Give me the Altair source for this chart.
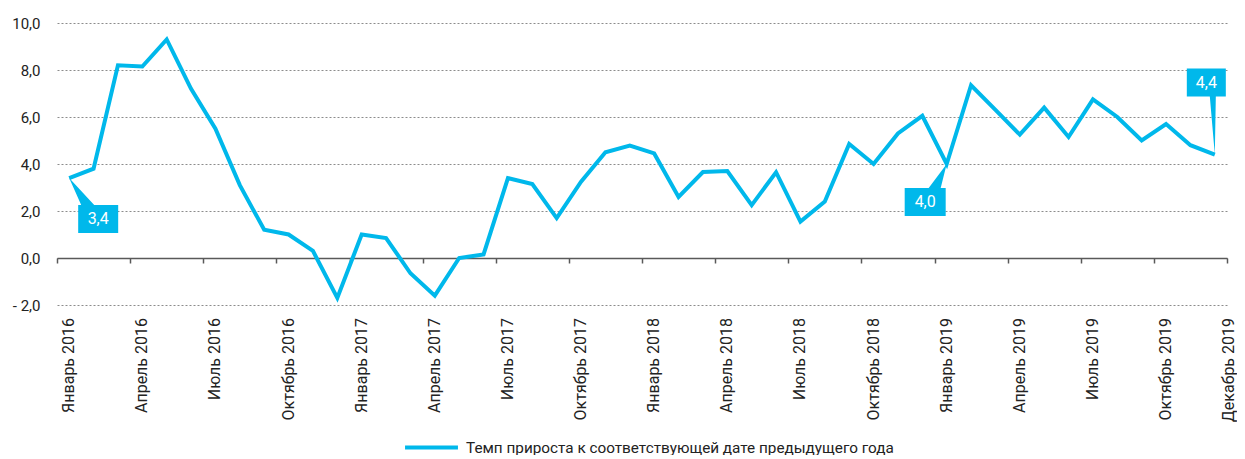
import altair as alt
import pandas as pd

# ---------------- data ----------------
values = [
    3.4, 3.8, 8.2, 8.15, 9.3, 7.2, 5.5, 3.1, 1.2, 1.0, 0.3, -1.7,      # 2016
    1.0, 0.85, -0.65, -1.6, 0.0, 0.15, 3.4, 3.15, 1.7, 3.25, 4.5, 4.78,  # 2017
    4.45, 2.6, 3.66, 3.7, 2.25, 3.65, 1.55, 2.4, 4.85, 4.0, 5.3, 6.05,  # 2018
    4.0, 7.35, 6.3, 5.25, 6.4, 5.15, 6.75, 6.0, 5.0, 5.7, 4.8, 4.4,     # 2019
]
month_index = list(range(48))

tick_labels = [
    "Январь 2016", "Апрель 2016", "Июль 2016", "Октябрь 2016",
    "Январь 2017", "Апрель 2017", "Июль 2017", "Октябрь 2017",
    "Январь 2018", "Апрель 2018", "Июль 2018", "Октябрь 2018",
    "Январь 2019", "Апрель 2019", "Июль 2019", "Октябрь 2019",
]
tick_index = [0, 3, 6, 9, 12, 15, 18, 21, 24, 27, 30, 33, 36, 39, 42, 45]
last_label = "Декабрь 2019"
last_index = 47

series_name = "Темп прироста к соответствующей дате предыдущего года"

callout_index = [0, 36, 47]
callout_text = ["3,4", "4,0", "4,4"]

y_ticks = [-2, 0, 2, 4, 6, 8, 10]

# ---------------- styles ----------------
COLOR = "#00B8EB"
FONT = "Roboto"
TEXT = "#222222"
AXIS = "#595959"
XFS = 16

df = pd.DataFrame({"i": month_index, "v": values, "s": series_name})

xscale = alt.Scale(domain=[-0.5, 47.5], nice=False, zero=False)
yscale = alt.Scale(domain=[-2, 10], nice=False, zero=False)
boundaries = [-0.5 + 3 * k for k in range(17)]

y_label_expr = (
    "datum.value < 0 ? '-  ' + replace(format(-datum.value, '.1f'), '.', ',') "
    ": replace(format(datum.value, '.1f'), '.', ',')"
)

line = alt.Chart(df).mark_line(strokeWidth=4, strokeJoin="miter").encode(
    x=alt.X("i:Q", scale=xscale, title=None,
            axis=alt.Axis(values=boundaries, labels=False, ticks=True, tickSize=5,
                          tickColor=AXIS, tickWidth=1.5, domainColor=AXIS, domainWidth=1.5,
                          grid=False, offset=-47)),
    y=alt.Y("v:Q", scale=yscale, title=None,
            axis=alt.Axis(values=y_ticks, labelExpr=y_label_expr, grid=True,
                          gridDash=[2, 2], gridColor="#8c8c8c", gridWidth=1,
                          domain=False, ticks=False, labelPadding=17,
                          labelFont=FONT, labelFontSize=15, labelColor=TEXT)),
    color=alt.Color("s:N", scale=alt.Scale(range=[COLOR]),
                    legend=alt.Legend(title=None, orient="none", legendX=346, legendY=396,
                                      symbolType="stroke", symbolSize=2800,
                                      symbolStrokeWidth=4, labelFont=FONT,
                                      labelFontSize=15.3, labelColor=TEXT,
                                      labelOffset=6, padding=0, labelLimit=0)),
)

X_PLAIN = dict(scale=xscale, title=None)
Y_PLAIN = dict(scale=yscale, title=None)

lab_df = pd.DataFrame({"i": tick_index, "t": tick_labels})
x_labels = alt.Chart(lab_df).mark_text(
    angle=270, align="right", baseline="middle", font=FONT, fontSize=XFS, color=TEXT
).encode(x=alt.X("i:Q", **X_PLAIN), y=alt.value(295), text="t:N")

last_df = pd.DataFrame({"i": [last_index], "t": [last_label]})
x_last = alt.Chart(last_df).mark_text(
    angle=270, align="right", baseline="middle", font=FONT, fontSize=XFS, color=TEXT, dy=14
).encode(x=alt.X("i:Q", **X_PLAIN), y=alt.value(295), text="t:N")

paths = [
    "M0,0 L25,27 L49,27 L49,55 L9,55 L9,27 L12,27 Z",
    "M0,0 L-6,24 L-1,24 L-1,52 L-42,52 L-42,24 L-18,24 Z",
    "M0,0 L1,-58 L11,-58 L11,-86 L-28,-86 L-28,-58 L-5,-58 Z",
]
text_off = [(29, 41), (-21.5, 38), (-8.5, -72)]

layers = [line, x_labels, x_last]
for idx, txt, path, (dx, dy) in zip(callout_index, callout_text, paths, text_off):
    d = df[df["i"] == idx].assign(t=txt)
    base = alt.Chart(d).encode(
        x=alt.X("i:Q", **X_PLAIN),
        y=alt.Y("v:Q", **Y_PLAIN),
    )
    box = base.mark_point(shape=path, size=4, filled=True, fill=COLOR,
                          strokeWidth=0, opacity=1)
    lbl = base.mark_text(dx=dx, dy=dy, color="white", font=FONT, fontSize=16,
                         align="center", baseline="middle").encode(text="t:N")
    layers += [box, lbl]

chart = alt.layer(*layers).properties(
    width=1170, height=282, autosize="none",
    padding={"left": 49, "top": 15, "right": 10, "bottom": 150},
    background="white",
).configure_view(stroke=None)

chart.save("out.html", embed_options={"renderer": "svg", "actions": False})
